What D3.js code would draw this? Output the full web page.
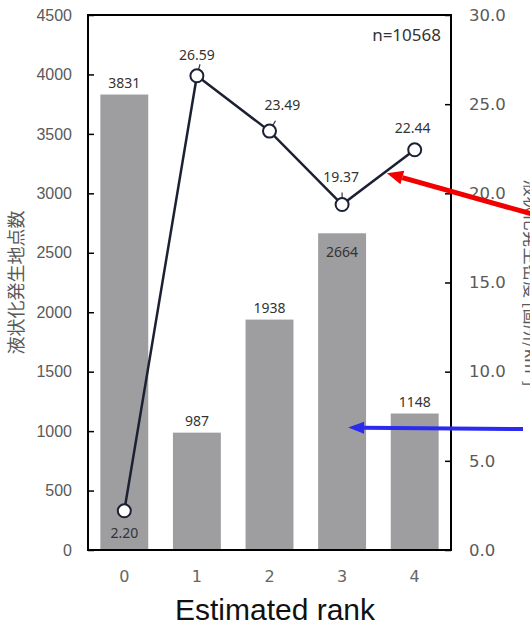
<!DOCTYPE html>
<html>
<head>
<meta charset="utf-8">
<script src="https://cdn.jsdelivr.net/npm/d3@7/dist/d3.min.js"></script>
<style>
  html, body { margin: 0; padding: 0; background: #fff; }
  svg { display: block; }
</style>
</head>
<body>
<svg id="chart" width="530" height="627"></svg>
<script>
// Liquefaction points per estimated rank (bars, left axis)
const ranks = ["0", "1", "2", "3", "4"];
const counts = [3831, 987, 1938, 2664, 1148];
// Liquefaction density per rank (line, right axis)
const density = [2.20, 26.59, 23.49, 19.37, 22.44];
const leftTicks = [0, 500, 1000, 1500, 2000, 2500, 3000, 3500, 4000, 4500];
const rightTicks = [0, 5, 10, 15, 20, 25, 30];
const sampleSize = "n=10568";
const leftTitle = "液状化発生地点数";
const rightTitle = "液状化発生密度 [箇所/km²]";
const xTitle = "Estimated rank";

// label placement for each value (style only)
const barLabelPlace = ["above", "above", "above", "inside", "above"];
const lineLabelPlace = [
  { dx: 0, dy: 27, lead: null },
  { dx: 0, dy: -16, lead: -75 },
  { dx: 13, dy: -21, lead: -60 },
  { dx: -1, dy: -23, lead: -90 },
  { dx: -2, dy: -17, lead: null }
];

const svg = d3.select("#chart");
const plot = { left: 88, right: 451, top: 15, bottom: 550 };

const x = d3.scaleBand().domain(ranks)
  .range([plot.left, plot.right])
  .paddingInner(0.34).paddingOuter(0.17);
const yL = d3.scaleLinear().domain([0, 4500]).range([plot.bottom, plot.top]);
const yR = d3.scaleLinear().domain([0, 30]).range([plot.bottom, plot.top]);
const cx = r => x(r) + x.bandwidth() / 2;

// bars
svg.append("g").selectAll("rect").data(ranks).join("rect")
  .attr("x", d => x(d))
  .attr("width", x.bandwidth())
  .attr("y", (d, i) => yL(counts[i]))
  .attr("height", (d, i) => yL(0) - yL(counts[i]))
  .attr("fill", "#9e9ea1");

// bar value labels
svg.append("g").selectAll("text").data(ranks).join("text")
  .attr("x", d => cx(d))
  .attr("y", (d, i) => barLabelPlace[i] === "inside" ? yL(counts[i]) + 24 : yL(counts[i]) - 7)
  .attr("text-anchor", "middle")
  .attr("font-family", "'Noto Sans', sans-serif")
  .attr("font-size", 14)
  .attr("fill", "#333")
  .text((d, i) => counts[i]);

// left axis
const axL = svg.append("g")
  .attr("transform", `translate(${plot.left},0)`)
  .call(d3.axisLeft(yL).tickValues(leftTicks).tickSize(-6).tickPadding(16).tickFormat(d3.format("d")));
axL.select(".domain").remove();
axL.selectAll("line").attr("stroke", "#000").attr("stroke-width", 1.5);
axL.selectAll("text")
  .attr("font-family", "'Liberation Sans', Arial, sans-serif")
  .attr("font-size", 16).attr("fill", "#5a5a5a");

// right axis
const axR = svg.append("g")
  .attr("transform", `translate(${plot.right},0)`)
  .call(d3.axisRight(yR).tickValues(rightTicks).tickSize(-6).tickPadding(18).tickFormat(d3.format(".1f")));
axR.select(".domain").remove();
axR.selectAll("line").attr("stroke", "#000").attr("stroke-width", 1.5);
axR.selectAll("text")
  .attr("font-family", "'DejaVu Sans', Verdana, sans-serif")
  .attr("font-size", 16.5).attr("fill", "#5a5a5a");

// bottom axis
const axB = svg.append("g")
  .attr("transform", `translate(0,${plot.bottom})`)
  .call(d3.axisBottom(x).tickSize(0).tickPadding(21));
axB.select(".domain").remove();
axB.selectAll("text")
  .attr("font-family", "'DejaVu Sans', Verdana, sans-serif")
  .attr("font-size", 16).attr("fill", "#666");

// plot frame
svg.append("rect")
  .attr("x", plot.left).attr("y", plot.top)
  .attr("width", plot.right - plot.left).attr("height", plot.bottom - plot.top)
  .attr("fill", "none").attr("stroke", "#000").attr("stroke-width", 2);

// density line
const pts = ranks.map((r, i) => [cx(r), yR(density[i])]);
svg.append("path")
  .attr("d", d3.line()(pts))
  .attr("fill", "none").attr("stroke", "#1c2033").attr("stroke-width", 2.5);

// leader lines
lineLabelPlace.forEach((p, i) => {
  if (p.lead === null) return;
  const a = p.lead * Math.PI / 180;
  const [px, py] = pts[i];
  svg.append("line")
    .attr("x1", px + Math.cos(a) * 4).attr("y1", py + Math.sin(a) * 4)
    .attr("x2", px + Math.cos(a) * 12).attr("y2", py + Math.sin(a) * 12)
    .attr("stroke", "#333").attr("stroke-width", 1.2);
});

svg.append("g").selectAll("circle").data(pts).join("circle")
  .attr("cx", d => d[0]).attr("cy", d => d[1]).attr("r", 6.5)
  .attr("fill", "#fff").attr("stroke", "#1c2033").attr("stroke-width", 2);

// density labels
svg.append("g").selectAll("text").data(pts).join("text")
  .attr("x", (d, i) => d[0] + lineLabelPlace[i].dx)
  .attr("y", (d, i) => d[1] + lineLabelPlace[i].dy)
  .attr("text-anchor", "middle")
  .attr("font-family", "'Noto Sans', sans-serif")
  .attr("font-size", 14)
  .attr("fill", "#333")
  .text((d, i) => density[i].toFixed(2));

// sample size
svg.append("text")
  .attr("x", plot.right - 10).attr("y", 41)
  .attr("text-anchor", "end")
  .attr("font-family", "'Noto Sans', sans-serif")
  .attr("font-size", 17).attr("fill", "#333")
  .text(sampleSize);

// axis titles
svg.append("text")
  .attr("transform", `translate(15,${(plot.top + plot.bottom) / 2}) rotate(-90)`)
  .attr("text-anchor", "middle").attr("dominant-baseline", "central")
  .attr("font-family", "'Noto Sans CJK JP', sans-serif")
  .attr("font-size", 18).attr("fill", "#595959")
  .text(leftTitle);

svg.append("text")
  .attr("transform", `translate(532,283) rotate(90)`)
  .attr("text-anchor", "middle").attr("dominant-baseline", "central")
  .attr("font-family", "'Noto Sans CJK JP', sans-serif")
  .attr("font-size", 17).attr("fill", "#595959")
  .text(rightTitle);

svg.append("text")
  .attr("x", 275).attr("y", 620)
  .attr("text-anchor", "middle")
  .attr("font-family", "'Liberation Sans', Arial, sans-serif")
  .attr("font-size", 30).attr("fill", "#111")
  .text(xTitle);

// pointer arrows
function arrow(x1, y1, x2, y2, color, width, headLen, headW) {
  const ang = Math.atan2(y2 - y1, x2 - x1);
  const bx = x2 - Math.cos(ang) * headLen, by = y2 - Math.sin(ang) * headLen;
  svg.append("line")
    .attr("x1", x1).attr("y1", y1).attr("x2", bx).attr("y2", by)
    .attr("stroke", color).attr("stroke-width", width);
  const nx = -Math.sin(ang) * headW / 2, ny = Math.cos(ang) * headW / 2;
  svg.append("polygon")
    .attr("points", [[x2, y2], [bx + nx, by + ny], [bx - nx, by - ny]].map(p => p.join(",")).join(" "))
    .attr("fill", color);
}
// red arrow points at the segment between ranks 3 and 4
const t = 0.59;
const redTip = [pts[3][0] + (pts[4][0] - pts[3][0]) * t, pts[3][1] + (pts[4][1] - pts[3][1]) * t];
arrow(532, 214, redTip[0] + 2, redTip[1] + 1, "#f20000", 5, 16, 14);
// blue arrow points into the rank 3 bar
arrow(523, 429, cx("3") + 6, yL(1030), "#2b2bf0", 4, 16, 12);
</script>
</body>
</html>
